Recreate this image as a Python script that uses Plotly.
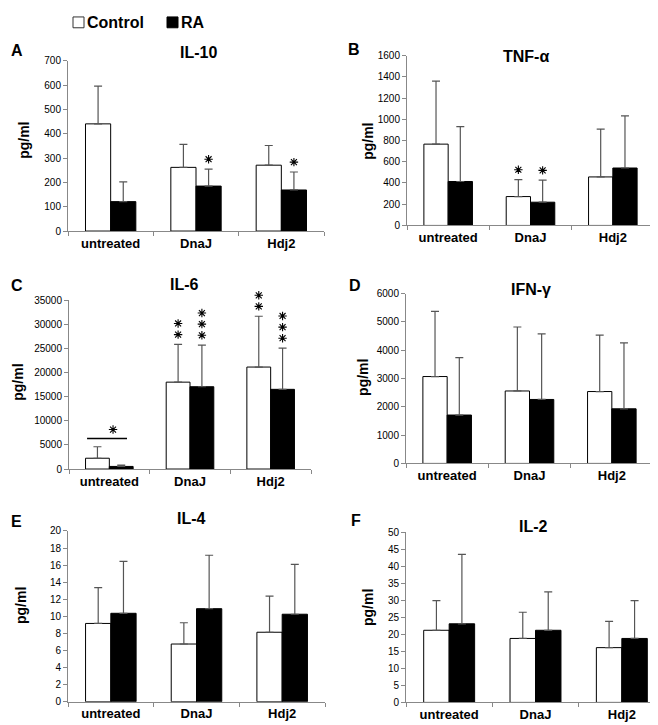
import plotly.graph_objects as go

W, H = 658, 725

categories = ["untreated", "DnaJ", "Hdj2"]
series_names = ["Control", "RA"]

# mean values and upper standard deviations
il10_control = [441, 262, 271]
il10_control_sd = [155, 95, 81]
il10_ra = [121, 185, 169]
il10_ra_sd = [81, 70, 74]

tnf_control = [766, 272, 457]
tnf_control_sd = [593, 160, 451]
tnf_ra = [414, 219, 541]
tnf_ra_sd = [516, 207, 491]

il6_control = [2240, 18010, 21140]
il6_control_sd = [2380, 7820, 10530]
il6_ra = [540, 17060, 16520]
il6_ra_sd = [280, 8630, 8560]

ifn_control = [3070, 2560, 2540]
ifn_control_sd = [2300, 2260, 1990]
ifn_ra = [1710, 2260, 1930]
ifn_ra_sd = [2030, 2320, 2330]

il4_control = [9.17, 6.76, 8.14]
il4_control_sd = [4.19, 2.49, 4.22]
il4_ra = [10.36, 10.9, 10.25]
il4_ra_sd = [6.07, 6.26, 5.83]

il2_control = [21.2, 18.8, 16.1]
il2_control_sd = [8.7, 7.7, 7.7]
il2_ra = [23.1, 21.2, 18.8]
il2_ra_sd = [20.4, 11.3, 11.1]

# significance stars above each bar (count)
il10_stars = ([0, 0, 0], [0, 1, 1])
tnf_stars = ([0, 1, 0], [0, 1, 0])
il6_stars = ([0, 2, 2], [0, 3, 3])
ifn_stars = ([0, 0, 0], [0, 0, 0])
il4_stars = ([0, 0, 0], [0, 0, 0])
il2_stars = ([0, 0, 0], [0, 0, 0])

panel_letters = ["A", "B", "C", "D", "E", "F"]
panel_titles = ["IL-10", "TNF-α", "IL-6", "IFN-γ", "IL-4", "IL-2"]
y_max = [700, 1600, 35000, 6000, 20, 50]
y_dtick = [100, 200, 5000, 1000, 2, 5]
y_title = "pg/ml"

panels = [
    (il10_control, il10_control_sd, il10_ra, il10_ra_sd, il10_stars),
    (tnf_control, tnf_control_sd, tnf_ra, tnf_ra_sd, tnf_stars),
    (il6_control, il6_control_sd, il6_ra, il6_ra_sd, il6_stars),
    (ifn_control, ifn_control_sd, ifn_ra, ifn_ra_sd, ifn_stars),
    (il4_control, il4_control_sd, il4_ra, il4_ra_sd, il4_stars),
    (il2_control, il2_control_sd, il2_ra, il2_ra_sd, il2_stars),
]

# layout geometry in pixels: (x_left, x_right, y_top, y_bottom)
boxes = [
    (60, 316, 47.7, 220.7),
    (399, 646, 42.3, 215),
    (61, 303, 291, 462.7),
    (398, 645, 284.3, 457),
    (60, 317, 525.7, 699.3),
    (398, 657, 527, 700),
]
letter_pos = [(9, 37), (346, 36), (9, 276), (347, 276), (8, 516), (348, 515)]
title_pos = [(190, 39), (518, 43), (176, 275), (523, 280), (183, 513), (525, 521)]
ytitle_pos = [(16, 129), (360, 130), (10, 375), (355, 370), (13, 602), (360, 604)]

STAR_OFFSET_PX = 10
STAR_STEP_PX = 11.3
STAR_EXT_PX = 30  # extra room above each panel for star markers

def px(x):
    return x / W

def py(y):
    return 1 - y / H

fig = go.Figure()
annotations = []
shapes = []
BARGAP = 0.41
bw = (1 - BARGAP) / 2
offsets = [-bw / 2, bw / 2]
idx = list(range(len(categories)))
bounds = [i - 0.5 for i in range(len(categories) + 1)]

for i, (c, csd, r, rsd, stars) in enumerate(panels):
    k = "" if i == 0 else str(i + 1)
    xa, ya = "x" + k, "y" + k
    ks = str(i + 7)
    xs, ys = "x" + ks, "y" + ks  # hidden, taller subplot for star marks
    x0, x1, y0, y1 = boxes[i]
    h = y1 - y0
    per_px = y_max[i] / h
    sx, sy = [], []
    for s, (vals, sd, fill) in enumerate([(c, csd, "white"), (r, rsd, "black")]):
        fig.add_trace(go.Bar(
            x=idx, y=vals, name=series_names[s], xaxis=xa, yaxis=ya,
            marker=dict(color=fill, line=dict(color="black", width=1)),
            error_y=dict(type="data", array=sd, arrayminus=[0] * len(sd), symmetric=False,
                         color="#555555", thickness=1.2, width=4),
            showlegend=False, hoverinfo="skip",
        ))
        for j, n in enumerate(stars[s]):
            for q in range(n):
                sx.append(j + offsets[s])
                sy.append(vals[j] + sd[j] + (STAR_OFFSET_PX + STAR_STEP_PX * q) * per_px)
    if i == 2:
        # bracket star over untreated pair
        br_top = c[0] + csd[0]
        shapes.append(dict(type="line", xref=xa, yref=ya,
                           x0=-0.276, x1=0.219, y0=br_top + 8.3 * per_px, y1=br_top + 8.3 * per_px,
                           line=dict(color="black", width=1.5)))
        sx.append(0.046)
        sy.append(br_top + 17.5 * per_px)
    fig.add_trace(go.Scatter(
        x=sx, y=sy, xaxis=xs, yaxis=ys, mode="markers", showlegend=False, hoverinfo="skip",
        cliponaxis=False,
        marker=dict(symbol="asterisk-open", size=7, color="black",
                    line=dict(color="black", width=1.1)),
    ))
    fig.layout["xaxis" + k] = dict(
        domain=[px(x0), px(x1)], anchor=ya, type="linear", range=[-0.5, 2.5],
        tickmode="array", tickvals=idx, ticktext=categories,
        showline=True, linecolor="#888888", linewidth=1, ticks="outside",
        ticklen=4, tickcolor="rgba(0,0,0,0)", showgrid=False, zeroline=False,
        ticklabelstandoff=-4,
        minor=dict(tickmode="array", tickvals=bounds, ticks="outside", ticklen=4,
                   tickcolor="#888888", showgrid=False),
        tickfont=dict(size=13, color="black", family="Arial", weight="bold"),
    )
    fig.layout["yaxis" + k] = dict(
        domain=[py(y1), py(y0)], anchor=xa, range=[0, y_max[i]], dtick=y_dtick[i],
        tickformat="d",
        showline=True, linecolor="#888888", linewidth=1, ticks="outside",
        ticklen=4, tickcolor="#888888", showgrid=False, zeroline=False,
        tickfont=dict(size=10, color="black", family="Arial"),
    )
    fig.layout["xaxis" + ks] = dict(
        domain=[px(x0), px(x1)], anchor=ys, type="linear", range=[-0.5, 2.5],
        visible=False, showgrid=False, zeroline=False,
    )
    fig.layout["yaxis" + ks] = dict(
        domain=[py(y1), py(y0 - STAR_EXT_PX)], anchor=xs,
        range=[0, y_max[i] * (h + STAR_EXT_PX) / h],
        visible=False, showgrid=False, zeroline=False,
    )
    lx, ly = letter_pos[i]
    annotations.append(dict(x=px(lx), y=py(ly), xref="paper", yref="paper",
                            text="<b>%s</b>" % panel_letters[i], showarrow=False,
                            xanchor="center", yanchor="middle",
                            font=dict(size=16, color="black", family="Arial")))
    tx, ty = title_pos[i]
    annotations.append(dict(x=px(tx), y=py(ty), xref="paper", yref="paper",
                            text="<b>%s</b>" % panel_titles[i], showarrow=False,
                            xanchor="center", yanchor="middle",
                            font=dict(size=16, color="black", family="Arial")))
    gx, gy = ytitle_pos[i]
    annotations.append(dict(x=px(gx), y=py(gy), xref="paper", yref="paper",
                            text="<b>%s</b>" % y_title, showarrow=False, textangle=-90,
                            xanchor="center", yanchor="middle",
                            font=dict(size=14, color="black", family="Arial")))

# legend
shapes.append(dict(type="rect", xref="paper", yref="paper", x0=px(65), x1=px(76),
                   y0=py(14), y1=py(3), fillcolor="white", line=dict(color="#333333", width=1)))
shapes.append(dict(type="rect", xref="paper", yref="paper", x0=px(159), x1=px(170),
                   y0=py(14), y1=py(3), fillcolor="black", line=dict(color="black", width=1)))
annotations.append(dict(x=px(77), y=py(9), xref="paper", yref="paper",
                        text="<b>%s</b>" % series_names[0], showarrow=False,
                        xanchor="left", yanchor="middle",
                        font=dict(size=16, color="black", family="Arial")))
annotations.append(dict(x=px(171), y=py(9), xref="paper", yref="paper",
                        text="<b>%s</b>" % series_names[1], showarrow=False,
                        xanchor="left", yanchor="middle",
                        font=dict(size=16, color="black", family="Arial")))

fig.update_layout(
    width=W, height=H, margin=dict(l=0, r=0, t=0, b=0),
    paper_bgcolor="white", plot_bgcolor="rgba(0,0,0,0)",
    barmode="group", bargap=BARGAP, bargroupgap=0,
    annotations=annotations, shapes=shapes,
    font=dict(family="Arial", color="black"),
)

fig.write_html("out.html")
